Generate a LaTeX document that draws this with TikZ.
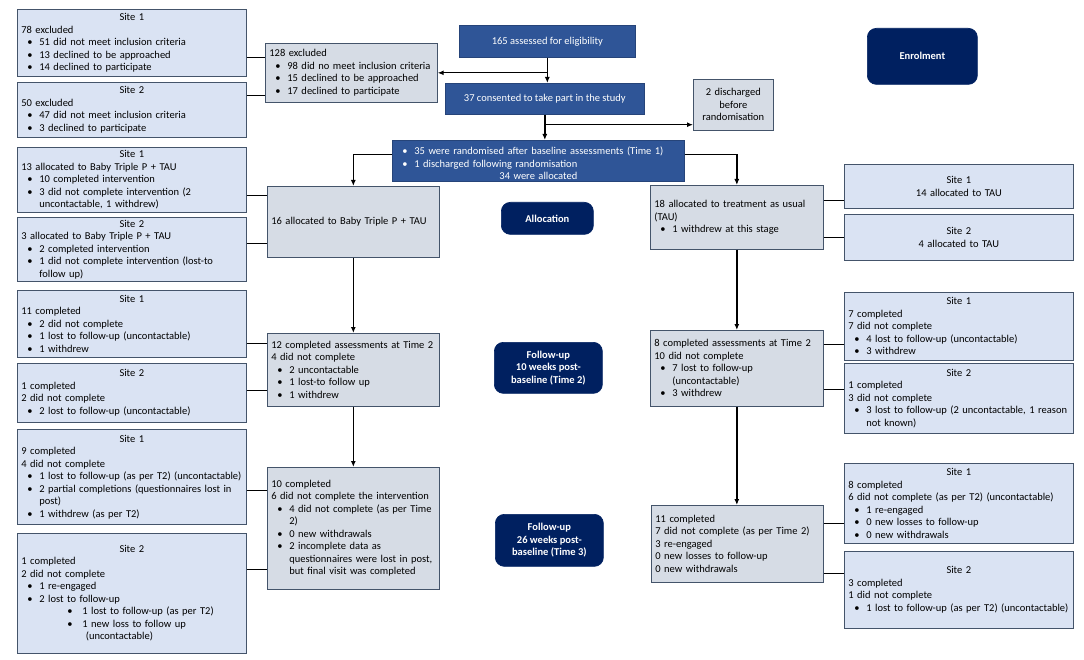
\documentclass[tikz,border=0pt]{standalone}
\usepackage{fontspec}
\setmainfont{Carlito}
\usetikzlibrary{arrows.meta}
\definecolor{sitefill}{RGB}{218,227,243}
\definecolor{midfill}{RGB}{214,220,229}
\definecolor{boxline}{RGB}{68,84,106}
\definecolor{bluefill}{RGB}{47,85,151}
\definecolor{navyfill}{RGB}{0,32,96}
\hyphenpenalty=10000
\exhyphenpenalty=10000
\newcommand{\bul}{\par\noindent\hbox to 18pt{\hskip 6pt\textbullet\hfil}}
\newcommand{\subbul}{\par\noindent\hbox to 61pt{\hskip 46pt\textbullet\hfil}}
\newcommand{\nxt}[1][18pt]{\par\noindent\hspace*{#1}}
\newcommand{\sitehead}[1]{{\centering #1\par}\noindent}
\begin{document}
\begin{tikzpicture}[x=1pt, y=-1pt, >={Latex[length=6pt,width=5pt]},
    basebox/.style={draw=boxline, line width=0.7pt, anchor=north west, inner xsep=4pt, inner ysep=1pt,
        align=left, font=\fontsize{10.5}{12.5}\selectfont},
    sitebox/.style={basebox, fill=sitefill, text width=221pt, minimum width=229pt},
    midbox/.style={basebox, fill=midfill},
    bluebox/.style={basebox, fill=bluefill, draw=bluefill!80!black, text=white, align=center},
    stagebox/.style={basebox, fill=navyfill, draw=navyfill, text=white, align=center, rounded corners=9pt,
        font=\fontsize{10.5}{12.5}\selectfont\bfseries},
    link/.style={line width=1.3pt}]
    \useasboundingbox (0,0) rectangle (1084,660);
    % enrolment
    \node [sitebox, minimum height=67pt] (enrolA) at (17,9) {\sitehead{Site 1}78 excluded\bul 51 did not meet inclusion criteria\bul 13 declined to be approached\bul 14 declined to participate};
    \node [sitebox, minimum height=55pt] (enrolB) at (17,82) {\sitehead{Site 2}50 excluded\bul 47 did not meet inclusion criteria\bul 3 declined to participate};
    \node [midbox, minimum width=172pt, minimum height=59pt, text width=164pt] (excl) at (265,43) {128 excluded\bul 98 did no meet inclusion criteria\bul 15 declined to be approached\bul 17 declined to participate};
    \node [bluebox, minimum width=176pt, minimum height=32pt] (elig) at (459,25) {165 assessed for eligibility};
    \node [bluebox, minimum width=199pt, minimum height=31pt] (consent) at (445,83) {37 consented to take part in the study};
    \node [midbox, minimum width=80pt, minimum height=51pt, text width=72pt, align=center] (disch) at (693,79) {2 discharged\\before\\randomisation};
    \node [stagebox, minimum width=110pt, minimum height=56pt] (enrolment) at (867,28) {Enrolment};
    \node [bluebox, minimum width=292pt, minimum height=41pt, text width=284pt, align=left] (random) at (392,140) {\bul 35 were randomised after baseline assessments (Time 1)\bul 1 discharged following randomisation\par\centerline{34 were allocated}};
    % allocation
    \node [sitebox, minimum height=65pt] (allocA) at (17,147) {\sitehead{Site 1}13 allocated to Baby Triple P + TAU\bul 10 completed intervention\bul 3 did not complete intervention (2\nxt uncontactable, 1 withdrew)};
    \node [sitebox, minimum height=64pt] (allocB) at (17,217) {\sitehead{Site 2}3 allocated to Baby Triple P + TAU\bul 2 completed intervention\bul 1 did not complete intervention (lost-to\nxt follow up)};
    \node [midbox, minimum width=172pt, minimum height=71pt, text width=164pt] (btp) at (267,186) {16 allocated to Baby Triple P + TAU};
    \node [stagebox, minimum width=92pt, minimum height=32pt] (allocation) at (501,202) {Allocation};
    \node [midbox, minimum width=173pt, minimum height=64pt, text width=165pt] (tau) at (650,185) {18 allocated to treatment as usual\\(TAU)\bul 1 withdrew at this stage};
    \node [sitebox, minimum height=44pt, align=center] (tauA) at (844,164) {Site 1\\14 allocated to TAU};
    \node [sitebox, minimum height=46pt, align=center] (tauB) at (844,214) {Site 2\\4 allocated to TAU};
    % time 2
    \node [sitebox, minimum height=67pt] (twoA) at (17,290) {\sitehead{Site 1}11 completed\bul 2 did not complete\bul 1 lost to follow-up (uncontactable)\bul 1 withdrew};
    \node [sitebox, minimum height=59pt] (twoB) at (17,363) {\sitehead{Site 2}1 completed\par\noindent 2 did not complete\bul 2 lost to follow-up (uncontactable)};
    \node [midbox, minimum width=172pt, minimum height=73pt, text width=164pt] (twoBTP) at (267,333) {12 completed assessments at Time 2\par\noindent 4 did not complete\bul 2 uncontactable\bul 1 lost-to follow up\bul 1 withdrew};
    \node [stagebox, minimum width=108pt, minimum height=51pt] (followA) at (494,342) {Follow-up\\10 weeks post-\\baseline (Time 2)};
    \node [midbox, minimum width=173pt, minimum height=76pt, text width=165pt] (twoTAU) at (650,330) {8 completed assessments at Time 2\par\noindent 10 did not complete\bul 7 lost to follow-up\nxt (uncontactable)\bul 3 withdrew};
    \node [sitebox, minimum height=68pt] (twoC) at (844,292) {\sitehead{Site 1}7 completed\par\noindent 7 did not complete\bul 4 lost to follow-up (uncontactable)\bul 3 withdrew};
    \node [sitebox, minimum height=70pt] (twoD) at (844,363) {\sitehead{Site 2}1 completed\par\noindent 3 did not complete\bul 3 lost to follow-up (2 uncontactable, 1 reason\nxt not known)};
    % time 3
    \node [sitebox, minimum height=95pt] (threeA) at (17,429) {\sitehead{Site 1}9 completed\par\noindent 4 did not complete\bul 1 lost to follow-up (as per T2) (uncontactable)\bul 2 partial completions (questionnaires lost in\nxt post)\bul 1 withdrew (as per T2)};
    \node [sitebox, minimum height=120pt] (threeB) at (17,533) {\sitehead{Site 2}1 completed\par\noindent 2 did not complete\bul 1 re-engaged\bul 2 lost to follow-up\subbul 1 lost to follow-up (as per T2)\subbul 1 new loss to follow up\nxt[61pt] (uncontactable)};
    \node [midbox, minimum width=172pt, minimum height=122pt, text width=164pt] (threeBTP) at (267,467) {10 completed\par\noindent 6 did not complete the intervention\bul 4 did not complete (as per Time\nxt 2)\bul 0 new withdrawals\bul 2 incomplete data as\nxt questionnaires were lost in post,\nxt but final visit was completed};
    \node [stagebox, minimum width=108pt, minimum height=52pt] (followB) at (495,514) {Follow-up\\26 weeks post-\\baseline (Time 3)};
    \node [midbox, minimum width=172pt, minimum height=77pt, text width=164pt] (threeTAU) at (651,505) {11 completed\\7 did not complete (as per Time 2)\\3 re-engaged\\0 new losses to follow-up\\0 new withdrawals};
    \node [sitebox, minimum height=80pt] (threeC) at (844,463) {\sitehead{Site 1}8 completed\par\noindent 6 did not complete (as per T2) (uncontactable)\bul 1 re-engaged\bul 0 new losses to follow-up\bul 0 new withdrawals};
    \node [sitebox, minimum height=77pt] (threeD) at (844,551) {\sitehead{Site 2}3 completed\par\noindent 1 did not complete\bul 1 lost to follow-up (as per T2) (uncontactable)};
    % flow
    \draw [link, ->] (elig.south) to (elig.south |- consent.north);
    \draw [link, ->] (elig.south |- excl.east) to (excl.east);
    \draw [link, ->] (consent.south) to (consent.south |- random.north);
    \coordinate (split) at ([yshift=-10pt]consent.south);
    \draw [link, ->] (split) to (split -| disch.west);
    \draw [link, ->] ([yshift=6pt]random.west) -| (btp.north);
    \draw [link, ->] ([yshift=6pt]random.east) -| (tau.north);
    \draw [link, ->] (btp.south) to (twoBTP.north);
    \draw [link, ->] (twoBTP.south) to (threeBTP.north);
    \draw [link, ->] (tau.south) to (twoTAU.north);
    \draw [link, ->] (twoTAU.south) to (twoTAU.south |- threeTAU.north);
    % sites
    \draw [link] ([yshift=-14.5pt]enrolA.east) to ([yshift=15.5pt]excl.west);
    \draw [link] ([yshift=14.5pt]enrolB.east) to ([yshift=-22.5pt]excl.west);
    \draw [link] ([yshift=-15.5pt]allocA.east) to ([yshift=26.5pt]btp.west);
    \draw [link] ([yshift=6pt]allocB.east) to ([yshift=-21.5pt]btp.west);
    \draw [link] ([yshift=-19.5pt]twoA.east) to ([yshift=26.5pt]twoBTP.west);
    \draw [link] ([yshift=2.5pt]twoB.east) to ([yshift=-20.5pt]twoBTP.west);
    \draw [link] ([yshift=-13.5pt]threeA.east) to ([yshift=38pt]threeBTP.west);
    \draw [link] ([yshift=24pt]threeB.east) to ([yshift=-41pt]threeBTP.west);
    \draw [link] ([yshift=17pt]tau.east) to ([yshift=-14pt]tauA.west);
    \draw [link] ([yshift=-20pt]tau.east) to (tauB.west);
    \draw [link] ([yshift=24pt]twoTAU.east) to ([yshift=-18pt]twoC.west);
    \draw [link] ([yshift=-21pt]twoTAU.east) to ([yshift=9pt]twoD.west);
    \draw [link] ([yshift=20.5pt]threeTAU.east) to ([yshift=-20pt]threeC.west);
    \draw [link] ([yshift=-29.5pt]threeTAU.east) to ([yshift=16.5pt]threeD.west);
\end{tikzpicture}
\end{document}
